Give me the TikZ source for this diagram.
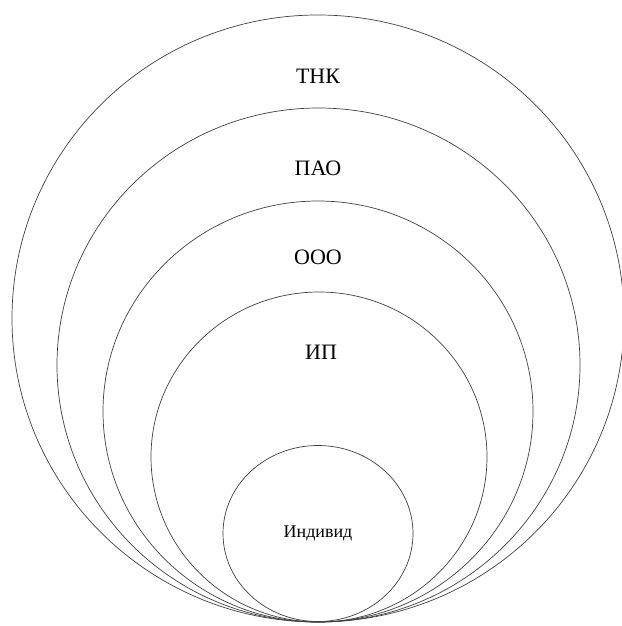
\documentclass[tikz,border=0pt]{standalone}
\usepackage{fontspec}
\setmainfont{Liberation Serif}
\begin{document}
\begin{tikzpicture}[x=1pt,y=-1pt,
  ring/.style={draw=black!75, line width=0.7pt},
  lbl/.style={font=\fontsize{22}{26}\selectfont, inner sep=0pt},
  slbl/.style={font=\fontsize{18}{21}\selectfont, inner sep=0pt}]
\useasboundingbox (0,0) rectangle (621,626);
\draw[ring] (318,318.5) ellipse[x radius=306, y radius=303.5];
\draw[ring] (318.5,365) ellipse[x radius=261.5, y radius=257];
\draw[ring] (318,411.5) ellipse[x radius=215, y radius=210.5];
\draw[ring] (319,457) ellipse[x radius=168, y radius=165];
\draw[ring] (318,533.5) ellipse[x radius=95, y radius=88];
\node[lbl] (thk) at (318,76) {ТНК};
\node[lbl] (pao) at (318,168) {ПАО};
\node[lbl] (ooo) at (318,257) {ООО};
\node[lbl] (ip) at (321,352) {ИП};
\node[slbl] (ind) at (318,533) {Индивид};
\end{tikzpicture}
\end{document}
